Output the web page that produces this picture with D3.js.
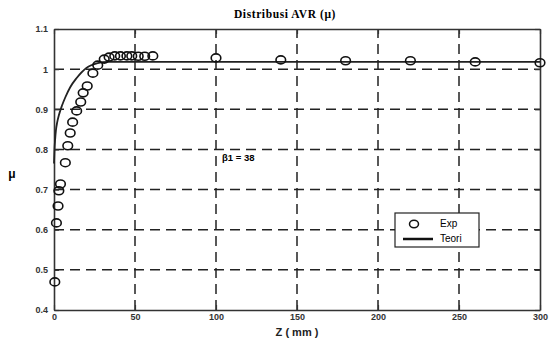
<!DOCTYPE html>
<html>
<head>
<meta charset="utf-8">
<script src="https://cdn.jsdelivr.net/npm/d3@7"></script>
<style>
  body { margin: 0; background: #fff; }
  text { font-family: "Liberation Sans", Arial, sans-serif; }
</style>
</head>
<body>
<svg id="chart"></svg>
<script>
// experimental points (Z in mm, mu)
const expZ = [0.5, 1.5, 2.5, 3, 4, 7, 8.5, 10, 11.5, 14, 16.5, 18, 20.5, 24, 27, 31, 34, 37.5, 41, 45, 48, 52, 56, 61, 100, 140, 180, 220, 260, 300];
const expMu = [0.47, 0.617, 0.659, 0.697, 0.714, 0.767, 0.809, 0.841, 0.868, 0.896, 0.918, 0.941, 0.958, 0.99, 1.01, 1.025, 1.03, 1.033, 1.033, 1.033, 1.033, 1.032, 1.032, 1.033, 1.028, 1.023, 1.021, 1.021, 1.018, 1.016];
// theory curve
const teoriZ = [0, 0.3, 0.7, 1.2, 2, 3, 5, 7, 10, 14, 20, 27, 33, 300];
const teoriMu = [0.765, 0.8, 0.825, 0.848, 0.868, 0.885, 0.91, 0.93, 0.955, 0.978, 1.003, 1.015, 1.018, 1.018];

const xTicks = [0, 50, 100, 150, 200, 250, 300];
const yTicks = [0.4, 0.5, 0.6, 0.7, 0.8, 0.9, 1, 1.1];

const width = 550, height = 342;
const margin = { left: 54, right: 10, top: 29, bottom: 32 };

const svg = d3.select("#chart")
  .attr("width", width)
  .attr("height", height);

const x = d3.scaleLinear().domain([0, 300]).range([margin.left, width - margin.right]);
const y = d3.scaleLinear().domain([0.4, 1.1]).range([height - margin.bottom, margin.top]);

// dashed grid
svg.append("g").selectAll("line")
  .data(xTicks.slice(1, -1))
  .join("line")
  .attr("x1", d => x(d)).attr("x2", d => x(d))
  .attr("y1", y(0.4)).attr("y2", y(1.1))
  .attr("stroke", "#222").attr("stroke-width", 1.5)
  .attr("stroke-dasharray", "10,6");

svg.append("g").selectAll("line")
  .data(yTicks.slice(1, -1))
  .join("line")
  .attr("x1", x(0)).attr("x2", x(300))
  .attr("y1", d => y(d)).attr("y2", d => y(d))
  .attr("stroke", "#222").attr("stroke-width", 1.5)
  .attr("stroke-dasharray", "10,6");

// axes with inward ticks
const axB = svg.append("g").attr("transform", `translate(0,${y(0.4)})`)
  .call(d3.axisBottom(x).tickValues(xTicks).tickSizeInner(-5).tickSizeOuter(0).tickPadding(4));
const axL = svg.append("g").attr("transform", `translate(${x(0)},0)`)
  .call(d3.axisLeft(y).tickValues(yTicks).tickFormat(d3.format("")).tickSizeInner(-5).tickSizeOuter(0).tickPadding(6));
const axT = svg.append("g").attr("transform", `translate(0,${y(1.1)})`)
  .call(d3.axisTop(x).tickValues(xTicks).tickSizeInner(-5).tickSizeOuter(0).tickFormat(""));
const axR = svg.append("g").attr("transform", `translate(${x(300)},0)`)
  .call(d3.axisRight(y).tickValues(yTicks).tickSizeInner(-5).tickSizeOuter(0).tickFormat(""));

[axB, axL, axT, axR].forEach(a => {
  a.select(".domain").attr("stroke", "#333").attr("stroke-width", 1.6);
  a.selectAll(".tick line").attr("stroke", "#333").attr("stroke-width", 1.2);
  a.selectAll("text").attr("font-size", 9).attr("font-weight", "bold").attr("fill", "#333");
});

// theory line
const line = d3.line().x((d, i) => x(teoriZ[i])).y(d => y(d)).curve(d3.curveMonotoneX);
svg.append("path")
  .datum(teoriMu)
  .attr("d", line)
  .attr("fill", "none")
  .attr("stroke", "#222")
  .attr("stroke-width", 1.8);

// experimental circles
svg.append("g").selectAll("ellipse")
  .data(expMu)
  .join("ellipse")
  .attr("cx", (d, i) => x(expZ[i]))
  .attr("cy", d => y(d))
  .attr("rx", 4.8)
  .attr("ry", 4)
  .attr("fill", "none")
  .attr("stroke", "#111")
  .attr("stroke-width", 1.6);

// title and labels
svg.append("text")
  .attr("x", 285).attr("y", 18)
  .attr("text-anchor", "middle")
  .style("font-family", "'Liberation Serif', serif")
  .attr("font-weight", "bold")
  .attr("font-size", 11.5)
  .attr("letter-spacing", 0.6)
  .text("Distribusi AVR (μ)");

svg.append("text")
  .attr("x", 297).attr("y", 336)
  .attr("text-anchor", "middle")
  .attr("font-size", 11)
  .attr("font-weight", "bold")
  .attr("fill", "#222")
  .text("Z ( mm )");

svg.append("text")
  .attr("x", 12).attr("y", 178)
  .attr("text-anchor", "middle")
  .attr("font-size", 12)
  .attr("font-weight", "bold")
  .text("μ");

svg.append("text")
  .attr("x", 222).attr("y", 161)
  .attr("font-size", 9.5)
  .attr("font-weight", "bold")
  .text("β1 = 38");

// legend
const lg = svg.append("g");
lg.append("rect")
  .attr("x", 395).attr("y", 213).attr("width", 84).attr("height", 34)
  .attr("fill", "#fff").attr("stroke", "#222").attr("stroke-width", 1.2);
lg.append("ellipse").attr("cx", 414).attr("cy", 224).attr("rx", 4.5).attr("ry", 3.8)
  .attr("fill", "none").attr("stroke", "#111").attr("stroke-width", 1.5);
lg.append("line").attr("x1", 403).attr("x2", 433).attr("y1", 239).attr("y2", 239)
  .attr("stroke", "#111").attr("stroke-width", 2.5);
lg.append("text").attr("x", 440).attr("y", 227).attr("font-size", 10).text("Exp");
lg.append("text").attr("x", 440).attr("y", 242).attr("font-size", 10).text("Teori");
</script>
</body>
</html>
